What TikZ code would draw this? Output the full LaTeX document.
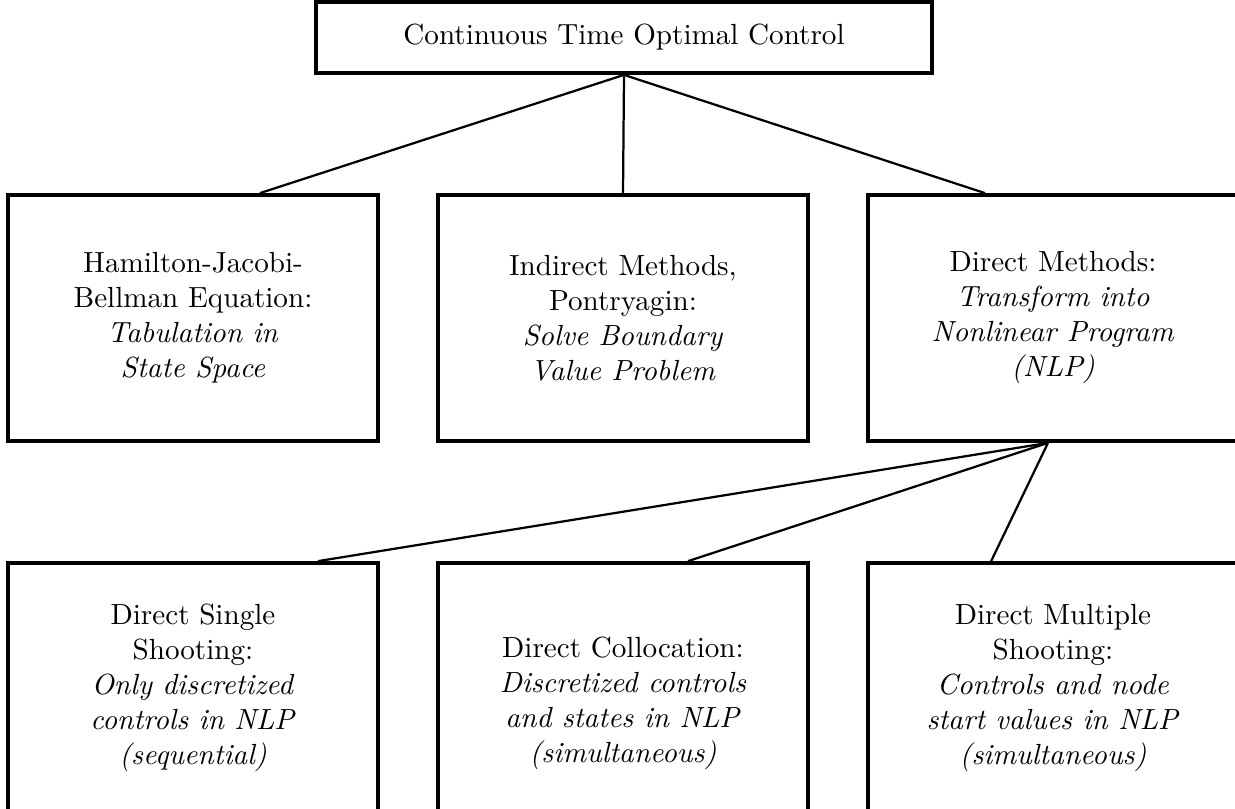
\documentclass[tikz,border=0pt]{standalone}
\usepackage{tikz}

\begin{document}
\begin{tikzpicture}[x=0.3571pt, y=-0.3571pt,
    box/.style={rectangle, black, draw, line width=1.3pt, align=center, inner sep=0pt,
        font=\fontsize{10.4}{12.5}\selectfont},
    wide/.style={box, minimum width=132.1pt, minimum height=87.9pt},
    link/.style={line width=0.8pt}]
    \useasboundingbox (0, 0) rectangle (1235, 808);
    \clip (0, 0) rectangle (1235, 808);

    \draw 
    (624, 37.5) node[box, minimum width=220pt, minimum height=25.4pt](OCP){Continuous Time Optimal Control}
    (193, 318) node[wide](HJB){Hamilton-Jacobi-\\Bellman Equation:\\\textit{Tabulation in}\\\textit{State Space}}
    (623, 318) node[wide](IND){Indirect Methods,\\Pontryagin:\\\textit{Solve Boundary}\\\textit{Value Problem}}
    (1053, 318) node[wide](DIR){Direct Methods:\\\textit{Transform into}\\\textit{Nonlinear Program}\\\textit{(NLP)}}
    (193, 688) node[wide, minimum height=89.3pt](DSS){Direct Single\\Shooting:\\\textit{Only discretized}\\\textit{controls in NLP}\\\textit{(sequential)}}
    (623, 688) node[wide, minimum height=89.3pt](DC){\rule{0pt}{18pt}Direct Collocation:\\\textit{Discretized controls}\\\textit{and states in NLP}\\\textit{(simultaneous)}}
    (1053, 688) node[wide, minimum height=89.3pt](DMS){Direct Multiple\\Shooting:\\\textit{Controls and node}\\\textit{start values in NLP}\\\textit{(simultaneous)}};

    % links between the boxes
    \draw[link] (OCP.south) -- ([xshift=23.9pt]HJB.north);
    \draw[link] (OCP.south) -- (IND.north);
    \draw[link] (OCP.south) -- ([xshift=-24.3pt]DIR.north);
    \draw[link] ([xshift=-1.8pt]DIR.south) -- ([xshift=44.6pt]DSS.north);
    \draw[link] ([xshift=-1.8pt]DIR.south) -- ([xshift=23.2pt]DC.north);
    \draw[link] ([xshift=-1.8pt]DIR.south) -- ([xshift=-22.1pt]DMS.north);

  \end{tikzpicture}
\end{document}
